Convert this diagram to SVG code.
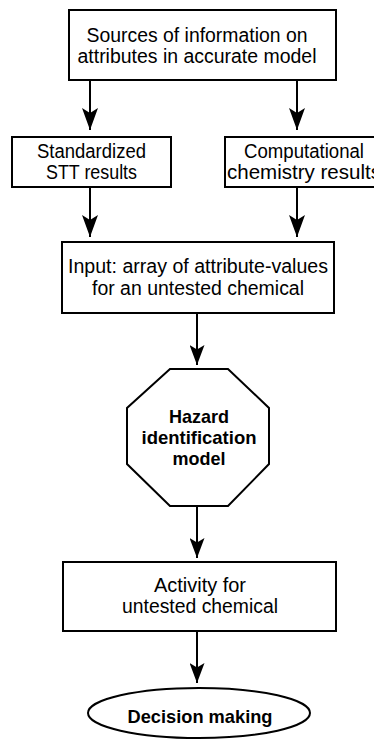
<svg xmlns="http://www.w3.org/2000/svg" width="374" height="740" viewBox="0 0 374 740">
<style>
.box{fill:#fff;stroke:#000;stroke-width:2}
.t{font-family:"Liberation Sans Narrow","Liberation Sans",Arial,sans-serif;font-size:19.5px;fill:#000;text-anchor:middle}
.b{font-weight:bold;font-size:19px}
.c{stroke:#000;stroke-width:2;fill:none}
</style>
<defs>
<marker id="ah" markerUnits="userSpaceOnUse" viewBox="0 -8 22 16" markerWidth="22" markerHeight="16" refX="22" refY="0" orient="auto">
<path d="M0,-8 L22,0 L0,8 L5,0 Z" fill="#000"/>
</marker>
<marker id="as" markerUnits="userSpaceOnUse" viewBox="0 -7.5 20 15" markerWidth="20" markerHeight="15" refX="20" refY="0" orient="auto">
<path d="M0,-7.5 L20,0 L0,7.5 L4.5,0 Z" fill="#000"/>
</marker>
</defs>
<rect width="374" height="740" fill="#fff"/>
<g id="connectors">
<line class="c" x1="90" y1="80" x2="90" y2="130" marker-end="url(#ah)"/>
<line class="c" x1="297" y1="80" x2="297" y2="130" marker-end="url(#ah)"/>
<line class="c" x1="90" y1="187" x2="90" y2="237" marker-end="url(#ah)"/>
<line class="c" x1="297" y1="187" x2="297" y2="237" marker-end="url(#ah)"/>
<line class="c" x1="197" y1="313" x2="197" y2="365" marker-end="url(#as)"/>
<line class="c" x1="197" y1="506" x2="197" y2="558" marker-end="url(#as)"/>
<line class="c" x1="197" y1="631" x2="197" y2="683" marker-end="url(#as)"/>
</g>
<g id="sources">
<rect class="box" x="69" y="10" width="267" height="70"/>
<text class="t" x="197" y="42" textLength="221" lengthAdjust="spacingAndGlyphs">Sources of information on</text>
<text class="t" x="197" y="63" textLength="239" lengthAdjust="spacingAndGlyphs">attributes in accurate model</text>
</g>
<g id="stt">
<rect class="box" x="12" y="137" width="159" height="50"/>
<text class="t" x="91.5" y="158" textLength="109" lengthAdjust="spacingAndGlyphs">Standardized</text>
<text class="t" x="91.5" y="179" textLength="91" lengthAdjust="spacingAndGlyphs">STT results</text>
</g>
<g id="comp">
<rect class="box" x="225" y="137" width="160" height="50"/>
<text class="t" x="304" y="158" textLength="120" lengthAdjust="spacingAndGlyphs">Computational</text>
<text class="t" x="304" y="179" textLength="154" lengthAdjust="spacingAndGlyphs">chemistry results</text>
</g>
<g id="input">
<rect class="box" x="62" y="242" width="272" height="71"/>
<text class="t" x="198" y="273" textLength="260" lengthAdjust="spacingAndGlyphs">Input: array of attribute-values</text>
<text class="t" x="198" y="295" textLength="212" lengthAdjust="spacingAndGlyphs">for an untested chemical</text>
</g>
<g id="hazard">
<polygon class="box" points="170,369 228,369 269,408 269,464 228,506 170,506 127,464 127,408"/>
<text class="t b" x="199" y="423" textLength="60" lengthAdjust="spacingAndGlyphs">Hazard</text>
<text class="t b" x="199" y="444" textLength="115" lengthAdjust="spacingAndGlyphs">identification</text>
<text class="t b" x="199" y="465" textLength="53" lengthAdjust="spacingAndGlyphs">model</text>
</g>
<g id="activity">
<rect class="box" x="63" y="562" width="273" height="69"/>
<text class="t" x="200" y="592" textLength="92" lengthAdjust="spacingAndGlyphs">Activity for</text>
<text class="t" x="200" y="613" textLength="156" lengthAdjust="spacingAndGlyphs">untested chemical</text>
</g>
<g id="decision">
<ellipse class="box" cx="199" cy="713" rx="111" ry="25"/>
<text class="t b" x="200" y="723" textLength="145" lengthAdjust="spacingAndGlyphs">Decision making</text>
</g>
</svg>
